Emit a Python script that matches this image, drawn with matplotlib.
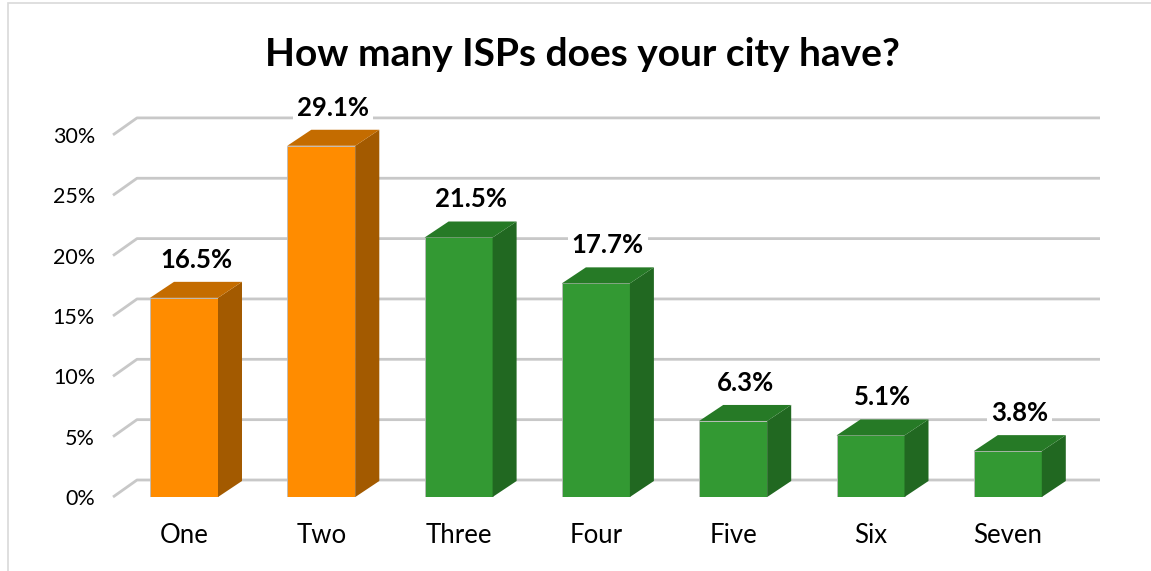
import matplotlib
matplotlib.use("Agg")
from matplotlib import pyplot as plt
from matplotlib.patches import Polygon, Rectangle

categories = ["One", "Two", "Three", "Four", "Five", "Six", "Seven"]
values = [16.5, 29.1, 21.5, 17.7, 6.3, 5.1, 3.8]
is_orange = [True, True, False, False, False, False, False]
yticks = [0, 5, 10, 15, 20, 25, 30]
title = "How many ISPs does your city have?"

plt.rcParams['font.family'] = ['Lato', 'DejaVu Sans']

W, H = 1151, 571
fig = plt.figure(figsize=(W / 100, H / 100), dpi=100)

# pixel scale of the front plane
px_x = 137.3   # pixels per category
px_y = 12.07   # pixels per percent
x0_px, y0_px = 184, 497
left_px, right_px, top_px = 113, 1100, 95

ax = fig.add_axes([left_px / W, (H - y0_px) / H,
                   (right_px - left_px) / W, (y0_px - top_px) / H])
ax.set_xlim((left_px - x0_px) / px_x, (right_px - x0_px) / px_x)
ax.set_ylim(0, (y0_px - top_px) / px_y)
for s in ax.spines.values():
    s.set_visible(False)

# 3d depth offsets
dx = 24 / px_x
dy = 16 / px_y
gdx = 24 / px_x
gdy = 17 / px_y
bw = 68 / px_x

xl = ax.get_xlim()
for t in yticks:
    ax.plot([xl[0], xl[0] + gdx, xl[1]], [t, t + gdy, t + gdy],
            color="#c8c8c8", lw=2, clip_on=False, zorder=1,
            solid_capstyle="butt")

colors = {True: ("#ff8c00", "#c46c00", "#a35a00"),
          False: ("#339933", "#267a26", "#216821")}

for i, (v, o) in enumerate(zip(values, is_orange)):
    front, top, side = colors[o]
    xa, xb = i - bw / 2, i + bw / 2
    ax.add_patch(Rectangle((xa, 0), bw, v, facecolor=front,
                           edgecolor="#bbbbbb", lw=0.6, zorder=3))
    ax.add_patch(Polygon([(xb, 0), (xb + dx, dy), (xb + dx, v + dy), (xb, v)],
                         facecolor=side, edgecolor="none", zorder=3))
    ax.add_patch(Polygon([(xa, v), (xa + dx, v + dy), (xb + dx, v + dy), (xb, v)],
                         facecolor=top, edgecolor="none", zorder=3))
    ax.text(i + dx / 2, v + dy + 22 / px_y, f"{v:.1f}%", ha="center",
            va="center", fontsize=18.5, fontweight="bold", color="black",
            zorder=5, clip_on=False,
            bbox=dict(facecolor="white", edgecolor="none", pad=3))

ax.set_yticks(yticks)
ax.set_yticklabels([f"{t}%" for t in yticks], fontsize=15.5)
ax.set_xticks(range(len(categories)))
ax.set_xticklabels(categories, fontsize=18.5)
ax.tick_params(axis="y", length=0, pad=13)
ax.tick_params(axis="x", length=0, pad=19)

fig.text(582 / W, 1 - 54 / H, title, ha="center", va="center",
         fontsize=28, fontweight="bold")

# chart area border
fig.add_artist(Rectangle((8 / W, -0.1), 1.2, 1 - 3 / H + 0.1,
                         transform=fig.transFigure, facecolor="none",
                         edgecolor="#d9d9d9", lw=1.2))

fig.savefig("out.png", dpi=100)
